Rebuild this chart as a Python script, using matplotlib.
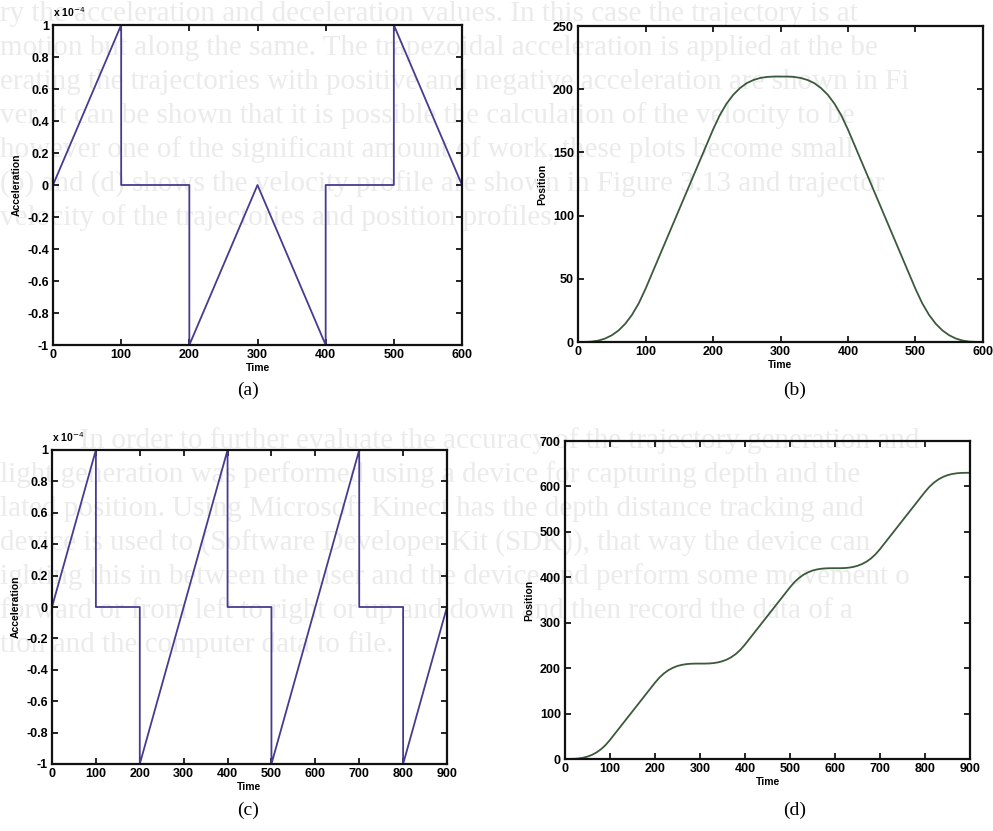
import matplotlib
matplotlib.use("Agg")
import matplotlib.pyplot as plt
from matplotlib.ticker import FuncFormatter, MultipleLocator

plt.rcParams['axes.unicode_minus'] = False
plt.rcParams['font.family'] = ['Liberation Sans', 'DejaVu Sans']

# (a) acceleration, short move (x 1e-4)
t_a = [0, 100, 100, 200, 200, 300, 400, 400, 500, 500, 600]
acc_a = [0, 1e-4, 0, 0, -1e-4, 0, -1e-4, 0, 0, 1e-4, 0]

# (b) position, short move, read every 10 time units
t_b = list(range(0, 601, 10))
pos_b = [0, 0.04, 0.3, 1.1, 2.7, 5.3, 9.1, 14.4, 21.5, 30.6, 42,
         54.6, 67.2, 79.8, 92.4, 105, 117.6, 130.2, 142.8, 155.4, 168,
         179.4, 188.5, 195.6, 200.9, 204.8, 207.3, 208.9, 209.7, 210, 210,
         210, 209.7, 208.9, 207.3, 204.8, 200.9, 195.6, 188.5, 179.4, 168,
         155.4, 142.8, 130.2, 117.6, 105, 92.4, 79.8, 67.2, 54.6, 42,
         30.6, 21.5, 14.4, 9.1, 5.3, 2.7, 1.1, 0.3, 0.04, 0]

# (c) acceleration, long move (x 1e-4)
t_c = [0, 100, 100, 200, 200, 400, 400, 500, 500, 700, 700, 800, 800, 900]
acc_c = [0, 1e-4, 0, 0, -1e-4, 1e-4, 0, 0, -1e-4, 1e-4, 0, 0, -1e-4, 0]

# (d) position, long move, read every 10 time units
t_d = list(range(0, 901, 10))
pos_d = [0, 0.04, 0.3, 1.1, 2.7, 5.3, 9.1, 14.4, 21.5, 30.6, 42,
         54.6, 67.2, 79.8, 92.4, 105, 117.6, 130.2, 142.8, 155.4, 168,
         179.4, 188.5, 195.6, 200.9, 204.8, 207.3, 208.9, 209.7, 210, 210,
         210, 210.3, 211.1, 212.7, 215.3, 219.1, 224.4, 231.5, 240.6, 252,
         264.6, 277.2, 289.8, 302.4, 315, 327.6, 340.2, 352.8, 365.4, 378,
         389.4, 398.5, 405.6, 410.9, 414.8, 417.3, 418.9, 419.7, 420, 420,
         420, 420.3, 421.1, 422.7, 425.3, 429.1, 434.4, 441.5, 450.6, 462,
         474.6, 487.2, 499.8, 512.4, 525, 537.6, 550.2, 562.8, 575.4, 588,
         599.4, 608.5, 615.6, 620.9, 624.8, 627.3, 628.9, 629.7, 630, 630]

# faint page text behind the figures
page_top = [
    "ry the acceleration and deceleration values. In this case the trajectory is at",
    "motion but along the same. The trapezoidal acceleration is applied at the be",
    "erating the trajectories with positive and negative acceleration are shown in Fi",
    "ver, it can be shown that it is possible the calculation of the velocity to be",
    "however one of the significant amount of work, these plots become small",
    "(b) and (d) shows the velocity profile are shown in Figure 3.13 and trajector",
    "velocity of the trajectories and position profiles.",
]
page_bottom = [
    "           In order to further evaluate the accuracy of the trajectory generation and",
    "light generation was performed using a device for capturing depth and the",
    "lated position. Using Microsoft Kinect has the depth distance tracking and",
    "device is used to (Software Developer Kit (SDK)), that way the device can",
    "ighting this in between the user and the device and perform some movement o",
    "forward or from left to right or up and down and then record the data of a",
    "tion and the computer data to file.",
]

fig = plt.figure(figsize=(9.93, 8.31), dpi=100)
fig.patch.set_facecolor('white')

for i, line in enumerate(page_top):
    fig.text(0.0, 1 - (14 + 34 * i) / 831, line, fontsize=21, family='Liberation Serif',
             color='#ebebeb', va='center', ha='left', zorder=-5)
for i, line in enumerate(page_bottom):
    fig.text(0.0, 1 - (441 + 34 * i) / 831, line, fontsize=21, family='Liberation Serif',
             color='#ebebeb', va='center', ha='left', zorder=-5)

acc_color = '#4a3a8e'
pos_color = '#3b5a3b'


def style(ax):
    ax.set_facecolor('none')
    for s in ax.spines.values():
        s.set_linewidth(1.6)
        s.set_color('#111111')
    ax.tick_params(direction='in', top=True, right=True, length=4, width=1.2,
                   labelsize=9, pad=3)
    for lab in ax.get_xticklabels() + ax.get_yticklabels():
        lab.set_fontweight('bold')
    ax.set_xlabel('Time', fontsize=7.5, fontweight='bold', labelpad=1)


acc_fmt = FuncFormatter(lambda v, p: '%g' % round(v / 1e-4, 2))

panels = [
    ([53, 25, 462, 345], t_a, acc_a, 600, 'acc', '(a)', (248, 390)),
    ([578, 26, 983, 342], t_b, pos_b, 600, 'pos250', '(b)', (795, 390)),
    ([52, 450, 447, 764], t_c, acc_c, 900, 'acc', '(c)', (248, 810)),
    ([565, 441, 970, 759], t_d, pos_d, 900, 'pos700', '(d)', (795, 810)),
]

for box, t, y, tmax, kind, tag, tagpos in panels:
    l, tp, r, b = box
    ax = fig.add_axes([l / 993, 1 - b / 831, (r - l) / 993, (b - tp) / 831])
    ax.set_xlim(0, tmax)
    ax.xaxis.set_major_locator(MultipleLocator(100))
    if kind == 'acc':
        ax.plot(t, y, color=acc_color, lw=1.3)
        ax.set_ylim(-1e-4, 1e-4)
        ax.yaxis.set_major_locator(MultipleLocator(0.2e-4))
        ax.yaxis.set_major_formatter(acc_fmt)
        ax.set_ylabel('Acceleration', fontsize=7.5, fontweight='bold', labelpad=4)
        ax.text(0.0, 1.018, 'x 10$^{-4}$', transform=ax.transAxes, fontsize=7.5,
                fontweight='bold', ha='left', va='bottom')
    else:
        ax.plot(t, y, color=pos_color, lw=1.3)
        top = 250 if kind == 'pos250' else 700
        ax.set_ylim(0, top)
        ax.yaxis.set_major_locator(MultipleLocator(50 if top == 250 else 100))
        ax.set_ylabel('Position', fontsize=7.5, fontweight='bold', labelpad=4)
    style(ax)
    fig.text(tagpos[0] / 993, 1 - tagpos[1] / 831, tag, fontsize=14,
             family='Liberation Serif', ha='center', va='center')

fig.savefig('out.png', dpi=100, facecolor='white')
